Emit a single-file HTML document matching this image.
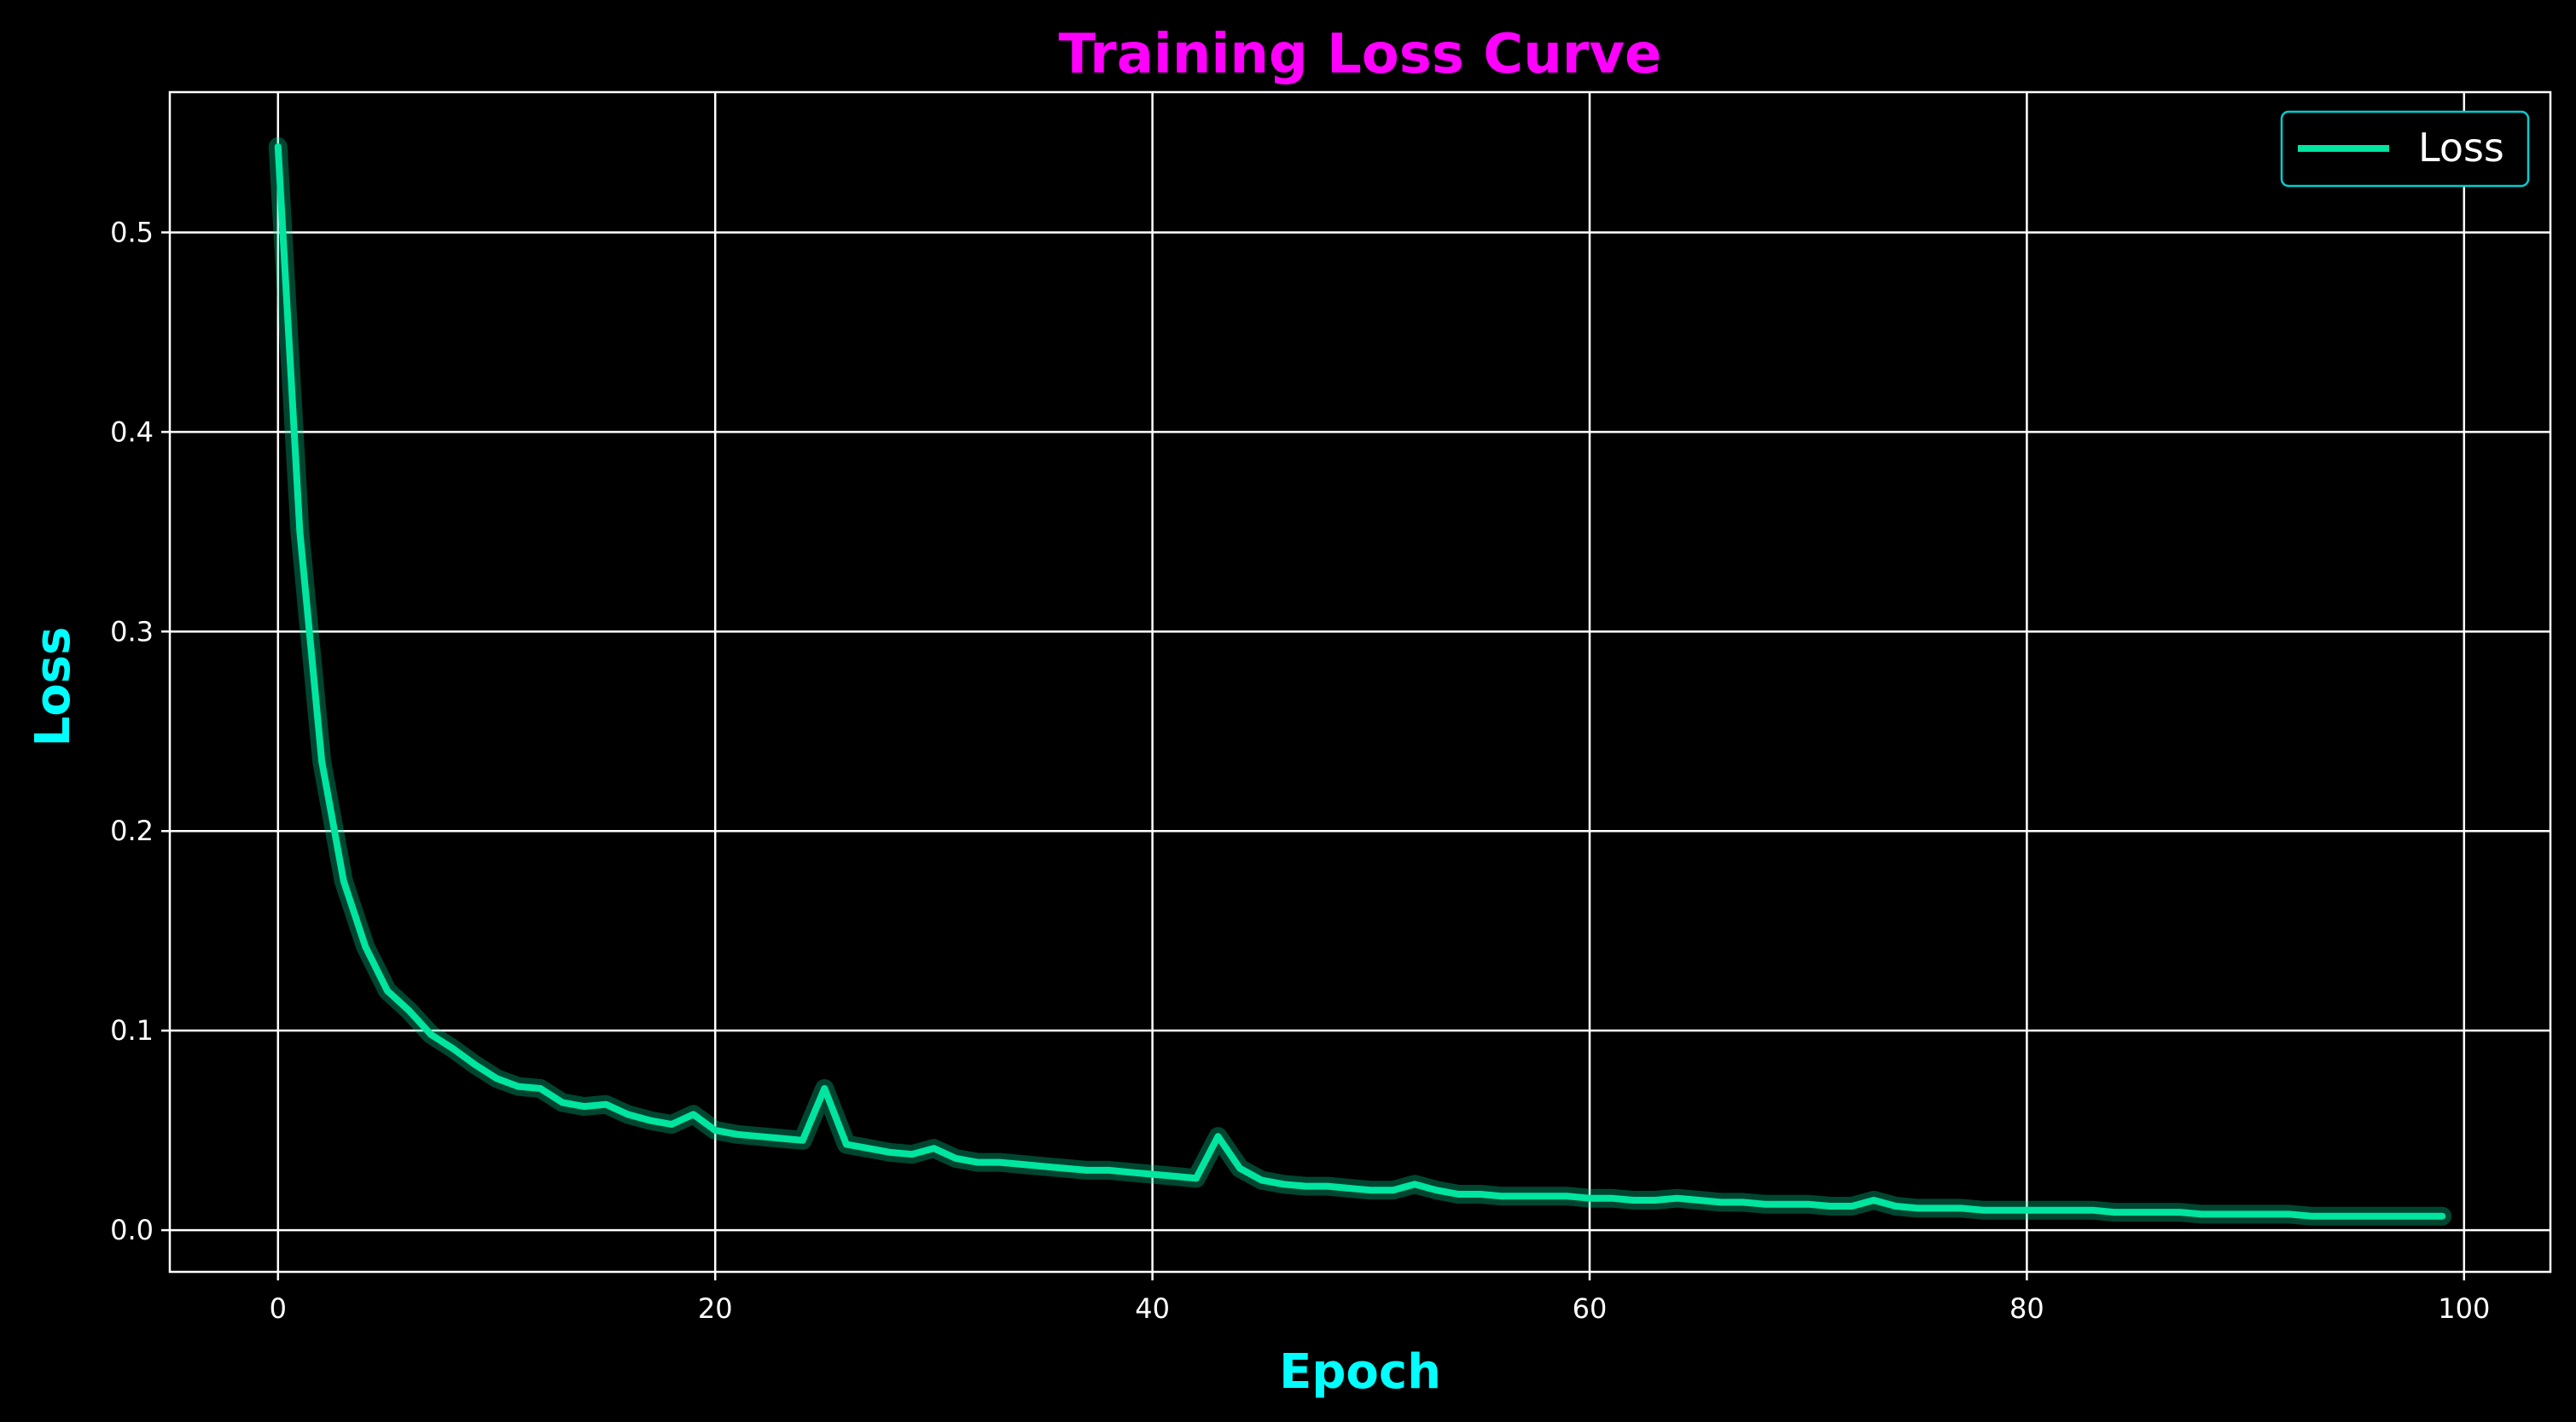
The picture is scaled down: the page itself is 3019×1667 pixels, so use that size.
<!DOCTYPE html>
<html><head><meta charset="utf-8"><style>
html,body{margin:0;padding:0;background:#000;}
svg{display:block;}
text{font-family:"DejaVu Sans","Liberation Sans",sans-serif;}
</style></head><body>
<svg id="chart" width="3019" height="1667" viewBox="0 0 3019 1667">
<rect x="0" y="0" width="3019" height="1667" fill="#000"/>
<g id="grid"></g>
<g id="ticks"></g>
<g id="series"></g>
<rect x="199" y="108" width="2790" height="1383" fill="none" stroke="#fff" stroke-width="2.5"/>
<text x="1594" y="85" text-anchor="middle" font-size="64" font-weight="bold" fill="#ff00ff">Training Loss Curve</text>
<text x="1594" y="1627" text-anchor="middle" font-size="56" font-weight="bold" fill="#00ffff">Epoch</text>
<text x="0" y="0" transform="translate(81,805) rotate(-90)" text-anchor="middle" font-size="56" font-weight="bold" fill="#00ffff">Loss</text>
<g>
<rect x="2674" y="131" width="289" height="87" rx="8" fill="#000" stroke="#00ced1" stroke-width="2.5"/>
<line x1="2693" y1="174" x2="2800" y2="174" stroke="#00e5a0" stroke-width="8"/>
<text x="2834" y="189" font-size="46" fill="#fff">Loss</text>
</g>
</svg>
<script>
const epochs = [];
for (let i = 0; i < 100; i++) epochs.push(i);
const lossValues = [0.543,0.35,0.235,0.175,0.142,0.12,0.11,0.098,0.091,0.083,
0.076,0.072,0.071,0.064,0.062,0.063,0.058,0.055,0.053,0.058,
0.050,0.048,0.047,0.046,0.045,0.071,0.043,0.041,0.039,0.038,
0.041,0.036,0.034,0.034,0.033,0.032,0.031,0.030,0.030,0.029,
0.028,0.027,0.026,0.047,0.031,0.025,0.023,0.022,0.022,0.021,
0.020,0.020,0.023,0.020,0.018,0.018,0.017,0.017,0.017,0.017,
0.016,0.016,0.015,0.015,0.016,0.015,0.014,0.014,0.013,0.013,
0.013,0.012,0.012,0.015,0.012,0.011,0.011,0.011,0.010,0.010,
0.010,0.010,0.010,0.010,0.009,0.009,0.009,0.009,0.008,0.008,
0.008,0.008,0.008,0.007,0.007,0.007,0.007,0.007,0.007,0.007];
const xTicks = [0,20,40,60,80,100];
const yTicks = [0.0,0.1,0.2,0.3,0.4,0.5];
const yTickLabels = ["0.0","0.1","0.2","0.3","0.4","0.5"];

const NS = "http://www.w3.org/2000/svg";
const L = 199, R = 2989, T = 108, B = 1491;
const xMin = -4.95, xMax = 103.95, yMin = -0.0209, yMax = 0.5703;
function xs(v){ return L + (v - xMin) / (xMax - xMin) * (R - L); }
function ys(v){ return B - (v - yMin) / (yMax - yMin) * (B - T); }
function mk(tag, attrs, parent){
  const e = document.createElementNS(NS, tag);
  for (const k in attrs) e.setAttribute(k, attrs[k]);
  parent.appendChild(e);
  return e;
}
const grid = document.getElementById('grid');
const ticks = document.getElementById('ticks');
xTicks.forEach(function(t){
  const x = xs(t);
  const g = mk('line', {x1:x, y1:T, x2:x, y2:B, stroke:'#fff', 'stroke-width':2.5}, grid);
  
  
  const tk = mk('line', {x1:x, y1:B, x2:x, y2:B+10, stroke:'#fff', 'stroke-width':2.5}, ticks);
  
  
  const tx = mk('text', {x:x, y:B+54, 'text-anchor':'middle', 'font-size':32, fill:'#fff'}, ticks);
  tx.textContent = String(t);
  
  
});
yTicks.forEach(function(t, i){
  const y = ys(t);
  const g = mk('line', {x1:L, y1:y, x2:R, y2:y, stroke:'#fff', 'stroke-width':2.5}, grid);
  
  
  const tk = mk('line', {x1:L-10, y1:y, x2:L, y2:y, stroke:'#fff', 'stroke-width':2.5}, ticks);
  
  
  const tx = mk('text', {x:L-19, y:y+11, 'text-anchor':'end', 'font-size':32, fill:'#fff'}, ticks);
  tx.textContent = yTickLabels[i];
  
  
});
const series = document.getElementById('series');
const pts = epochs.map(function(e, i){ return xs(e).toFixed(1) + ',' + ys(lossValues[i]).toFixed(1); }).join(' ');
const glow = mk('polyline', {points:pts, fill:'none', stroke:'#00e5a0', 'stroke-opacity':0.3, 'stroke-width':22, 'stroke-linejoin':'round', 'stroke-linecap':'round'}, series);


const line = mk('polyline', {points:pts, fill:'none', stroke:'#00e5a0', 'stroke-width':8, 'stroke-linejoin':'round', 'stroke-linecap':'round'}, series);


</script>
</body></html>
